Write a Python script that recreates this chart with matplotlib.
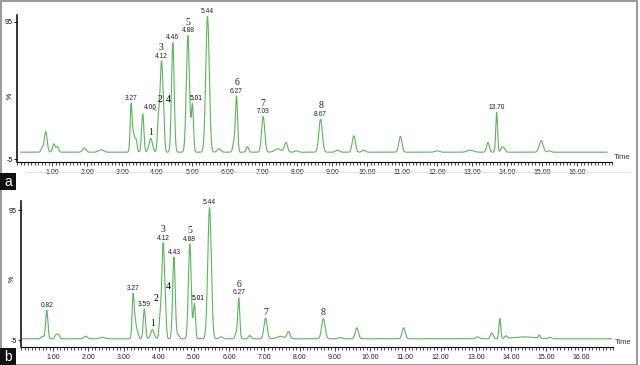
import numpy as np
import matplotlib.pyplot as plt
from matplotlib.ticker import MultipleLocator
from matplotlib.patches import Rectangle

# chromatogram a: retention time (min), peak height (%), peak width (min)
a_rt = [0.72, 0.82, 1.05, 1.15, 1.92, 2.40, 3.26, 3.33, 3.40, 3.59, 3.82,
        4.04, 4.12, 4.18, 4.45, 4.88, 5.01, 5.44, 5.77, 6.20, 6.27, 6.58,
        7.03, 7.45, 7.68, 7.98, 8.67, 9.15, 9.62, 9.90, 10.95, 12.00,
        12.95, 13.45, 13.70, 13.85, 13.92, 14.97, 15.20]
a_height = [3, 15, 6, 4, 3, 1.8, 35, 12, 9, 28, 10,
            24, 62, 26, 80, 85, 34, 99, 2.5, 8, 40, 4,
            26, 2.5, 7, 1, 24, 1.5, 12, 1.5, 11.5, 1,
            1.5, 7, 29, 3.5, 2.5, 8.5, 1]
a_width = [0.035, 0.04, 0.035, 0.035, 0.05, 0.07, 0.028, 0.03, 0.03, 0.032, 0.05,
           0.03, 0.036, 0.03, 0.038, 0.045, 0.03, 0.05, 0.05, 0.035, 0.03, 0.035,
           0.045, 0.09, 0.045, 0.05, 0.05, 0.05, 0.045, 0.05, 0.045, 0.06,
           0.09, 0.04, 0.026, 0.035, 0.035, 0.055, 0.05]

# chromatogram b
b_rt = [0.70, 0.82, 1.08, 1.15, 1.92, 2.40, 3.27, 3.33, 3.40, 3.59, 3.82,
        4.04, 4.12, 4.18, 4.43, 4.55, 4.88, 5.01, 5.44, 5.77, 6.20, 6.27,
        6.58, 7.03, 7.45, 7.68, 8.67, 9.15, 9.62, 10.95, 13.05, 13.45,
        13.68, 13.85, 14.35, 14.80, 15.10]
b_height = [2, 22, 3, 3, 2, 1.2, 33, 13, 5, 23, 7,
            17, 70, 23, 63, 3, 73, 27, 101, 1.5, 4.5, 31,
            2.5, 16, 2, 5.5, 15.5, 1, 8.5, 8.5, 1.5, 4.5,
            15.5, 2, 1.5, 2.5, 1]
b_width = [0.035, 0.032, 0.035, 0.035, 0.05, 0.07, 0.028, 0.03, 0.03, 0.032, 0.05,
           0.03, 0.035, 0.03, 0.036, 0.035, 0.04, 0.03, 0.05, 0.05, 0.035, 0.028,
           0.035, 0.045, 0.09, 0.045, 0.05, 0.05, 0.045, 0.045, 0.05, 0.04,
           0.026, 0.035, 0.3, 0.026, 0.05]

# peak labels: (time, retention-time text, compound number)
a_labels = [(3.26, '3.27', ''), (3.82, '', '1'), (4.12, '4.12', '3'),
            (4.45, '4.46', ''), (4.88, '4.88', '5'), (5.44, '5.44', ''),
            (6.27, '6.27', '6'), (7.03, '7.03', '7'), (8.67, '8.67', '8'),
            (13.70, '13.70', '')]
b_labels = [(0.82, '0.82', ''), (3.27, '3.27', ''), (3.59, '3.59', ''),
            (3.82, '', '1'), (4.12, '4.12', '3'), (4.43, '4.43', ''),
            (4.88, '4.88', '5'), (5.44, '5.44', ''), (6.27, '6.27', '6'),
            (7.03, '', '7'), (8.67, '', '8')]

green = '#5ab65a'
t = np.linspace(0.1, 16.85, 5000)


def trace(rt, height, width, base):
    y = np.full_like(t, base)
    for r, h, w in zip(rt, height, width):
        y += h * np.exp(-0.5 * ((t - r) / w) ** 2)
    return y


def style_axis(ax, ylim, xlim):
    ax.set_xlim(*xlim)
    ax.set_ylim(*ylim)
    for s in ['top', 'right']:
        ax.spines[s].set_visible(False)
    ax.spines['left'].set_linewidth(1.1)
    ax.spines['bottom'].set_linewidth(0.8)
    ax.xaxis.set_minor_locator(MultipleLocator(0.1))
    ax.set_xticks(np.arange(1, 17))
    ax.set_xticklabels(['%.2f' % v for v in np.arange(1, 17)])
    ax.tick_params(axis='x', which='major', length=3, width=0.6, labelsize=5,
                   pad=2, colors='#222222')
    ax.tick_params(axis='x', which='minor', length=2, width=0.5)
    ax.set_yticks([-5, 95])
    ax.set_yticklabels(['-5', '95'])
    ax.tick_params(axis='y', length=2, width=0.6, labelsize=5, pad=1)
    ax.text(1.003, 0.03, 'Time', transform=ax.transAxes, fontsize=5.5,
            va='center', ha='left', color='#333333')


def put_labels(ax, labels, y):
    for tm, rtxt, num in labels:
        yy = np.interp(tm, t, y)
        off = 1
        if rtxt:
            ax.annotate(rtxt, (tm, yy), xytext=(0, 1), textcoords='offset points',
                        ha='center', va='bottom', fontsize=4.8, color='#222222',
                        family='Liberation Sans')
            off = 6.5
        if num:
            ax.annotate(num, (tm, yy), xytext=(0, off), textcoords='offset points',
                        ha='center', va='bottom', fontsize=7, color='#222222',
                        family='Liberation Serif')


plt.rcParams['font.family'] = ['Liberation Sans', 'DejaVu Sans']
fig = plt.figure(figsize=(6.4, 3.65), dpi=100)

ax1 = fig.add_axes([0.0266, 0.556, 0.930, 0.403])
ya = trace(a_rt, a_height, a_width, 0.0)
ax1.plot(t, ya, color=green, lw=0.8, clip_on=False)
style_axis(ax1, (-7.2, 100.1), (0, 17))
put_labels(ax1, a_labels, ya)
# peaks 2 and 4 of panel a
y2 = np.interp(4.04, t, ya)
ax1.annotate('4.06', (4.04, y2), xytext=(-6, 1), textcoords='offset points',
             ha='center', va='bottom', fontsize=4.8, color='#222222',
             arrowprops=dict(arrowstyle='-', lw=0.4, color='#444444'))
ax1.annotate('2', (4.04, y2), xytext=(1, 5.5), textcoords='offset points',
             ha='center', va='bottom', fontsize=7, family='Liberation Serif')
ax1.annotate('4', (4.19, np.interp(4.19, t, ya)), xytext=(3, 1),
             textcoords='offset points', ha='center', va='bottom', fontsize=7,
             family='Liberation Serif')
ax1.annotate('5.01', (5.01, np.interp(5.01, t, ya)), xytext=(2.5, 1),
             textcoords='offset points', ha='center', va='bottom', fontsize=4.8)
ax1.text(-0.011, 0.45, '%', transform=ax1.transAxes, rotation=90, fontsize=5,
         ha='center', va='center')

ax2 = fig.add_axes([0.0323, 0.049, 0.926, 0.400])
yb = trace(b_rt, b_height, b_width, -4.0)
ax2.plot(t, yb, color=green, lw=0.8, clip_on=False)
style_axis(ax2, (-10.4, 102), (0.08, 16.9))
put_labels(ax2, b_labels, yb)
ax2.annotate('2', (4.04, np.interp(4.04, t, yb)), xytext=(-3, 5),
             textcoords='offset points', ha='center', va='bottom', fontsize=7,
             family='Liberation Serif')
ax2.annotate('4', (4.19, np.interp(4.19, t, yb)), xytext=(2, 5),
             textcoords='offset points', ha='center', va='bottom', fontsize=7,
             family='Liberation Serif')
ax2.annotate('5.01', (5.01, np.interp(5.01, t, yb)), xytext=(2.5, 1),
             textcoords='offset points', ha='center', va='bottom', fontsize=4.8)
ax2.text(-0.014, 0.47, '%', transform=ax2.transAxes, rotation=90, fontsize=5,
         ha='center', va='center')

# panel frames and letter tags
fig.patches.append(Rectangle((0.001, 0.001), 0.994, 0.997, transform=fig.transFigure,
                             fill=False, edgecolor='#888888', lw=1.2))
fig.add_artist(plt.Line2D([0.04, 0.985], [0.53, 0.53], color='#dddddd', lw=0.6))
for ypos, letter in [(0.479, 'a'), (0.0, 'b')]:
    fig.patches.append(Rectangle((0, ypos), 0.025, 0.046, transform=fig.transFigure,
                                 facecolor='#111111', edgecolor='none'))
    fig.text(0.0125, ypos + 0.021, letter, color='white', fontsize=10,
             ha='center', va='center')

fig.savefig('out.png', dpi=100)
